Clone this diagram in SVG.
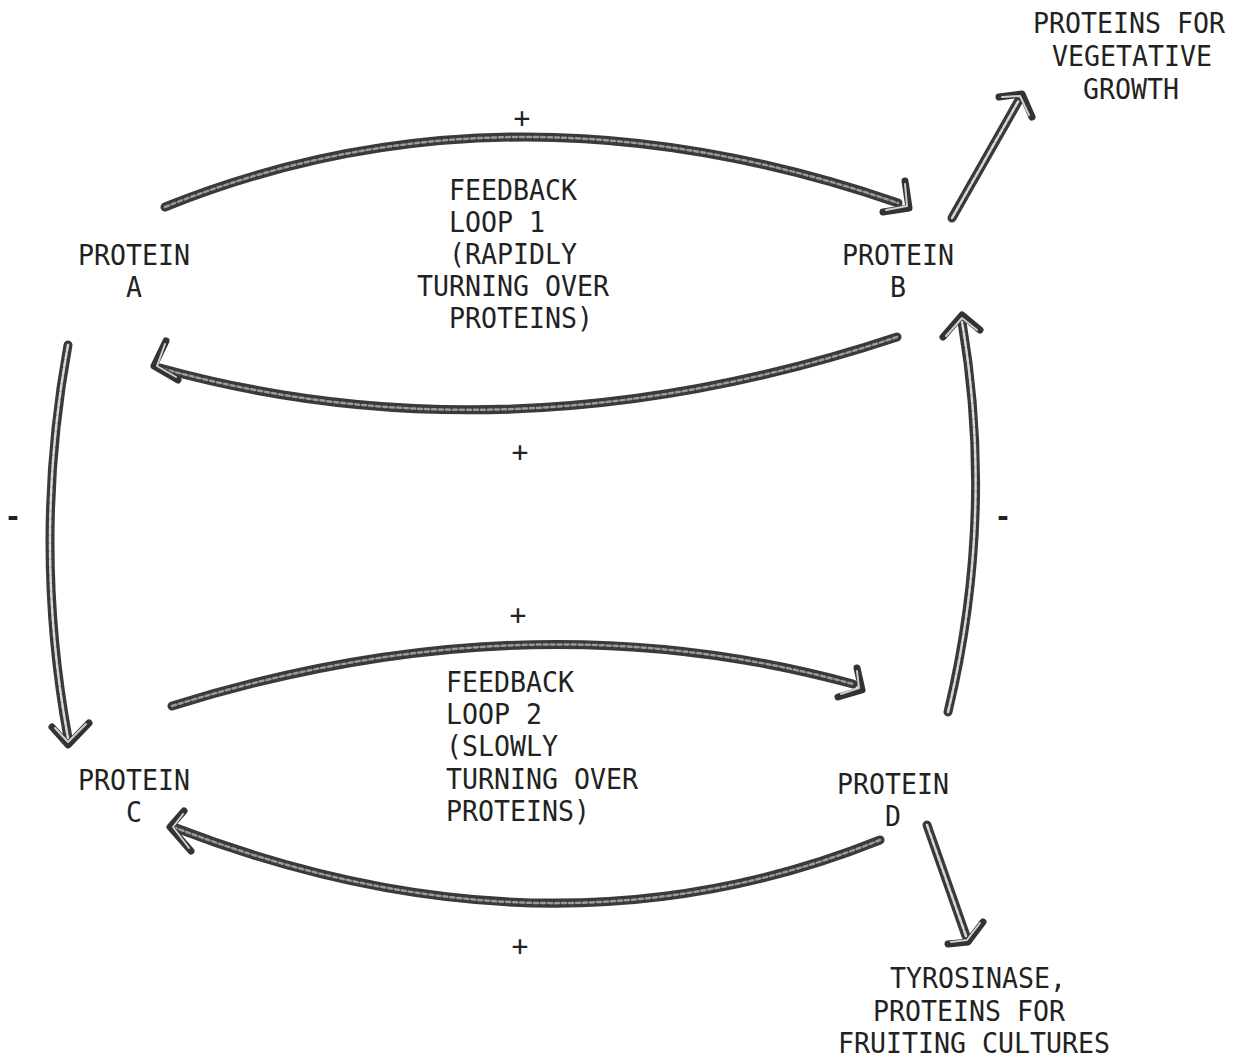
<svg xmlns="http://www.w3.org/2000/svg" width="1246" height="1063" viewBox="0 0 1246 1063">
<style>
  .t { font-family: "DejaVu Sans Mono", "Liberation Mono", monospace; font-size: 29px; fill: #222; }
  .sign { font-family: "DejaVu Sans Mono", "Liberation Mono", monospace; font-size: 28px; fill: #222; text-anchor: middle; }
  .minus { font-family: "DejaVu Sans Mono", "Liberation Mono", monospace; font-size: 28px; fill: #222; text-anchor: middle; font-weight: bold; }
  .band { fill: none; stroke: #3a3a3a; stroke-width: 9; stroke-linecap: round; stroke-linejoin: round; }
  .core { fill: none; stroke: #9a9a9a; stroke-width: 2.5; stroke-linecap: round; stroke-dasharray: 4 3; }
  .core2 { fill: none; stroke: #d8d8d8; stroke-width: 2.5; stroke-linecap: round; stroke-dasharray: 6 2; }
  .head { fill: none; stroke: #333; stroke-width: 7; stroke-linecap: round; stroke-linejoin: round; }
  .headcore { fill: none; stroke: #cfcfcf; stroke-width: 2; stroke-linecap: round; stroke-linejoin: round; }
</style>
<rect width="1246" height="1063" fill="#ffffff"/>

<g id="connectors">
  <g id="edge-a-b">
    <path class="band" d="M165,207 Q508,69 898,203"/>
    <path class="core" d="M165,207 Q508,69 898,203"/>
    <polyline class="head" points="905,181 909,208 883,212"/>
    <polyline class="headcore" points="905,184 907,206 886,210"/>
  </g>
  <g id="edge-b-a">
    <path class="band" d="M897,337 Q511,465 160,368"/>
    <path class="core" d="M897,337 Q511,465 160,368"/>
    <polyline class="head" points="166,341 154,366 178,380"/>
    <polyline class="headcore" points="165,344 157,366 176,377"/>
  </g>
  <g id="edge-a-c">
    <path class="band" d="M68,345 Q32,542 68,738"/>
    <path class="core2" d="M68,345 Q32,542 68,738"/>
    <polyline class="head" points="52,727 68,745 89,723"/>
    <polyline class="headcore" points="55,728 68,742 86,724"/>
  </g>
  <g id="edge-d-b">
    <path class="band" d="M948,712 Q995,517 962,322"/>
    <path class="core2" d="M948,712 Q995,517 962,322"/>
    <polyline class="head" points="943,337 962,315 980,330"/>
    <polyline class="headcore" points="946,336 962,318 977,330"/>
  </g>
  <g id="edge-c-d">
    <path class="band" d="M172,706 Q528,595 853,684"/>
    <path class="core" d="M172,706 Q528,595 853,684"/>
    <polyline class="head" points="857,668 862,690 838,697"/>
    <polyline class="headcore" points="857,671 859,688 841,694"/>
  </g>
  <g id="edge-d-c">
    <path class="band" d="M880,840 Q551,972 176,828"/>
    <path class="core" d="M880,840 Q551,972 176,828"/>
    <polyline class="head" points="184,811 170,827 191,851"/>
    <polyline class="headcore" points="183,814 173,827 189,848"/>
  </g>
  <g id="edge-b-veg">
    <path class="band" d="M952,218 L1019,100"/>
    <path class="core2" d="M952,218 L1019,100"/>
    <polyline class="head" points="999,97 1022,94 1032,117"/>
    <polyline class="headcore" points="1002,97 1020,96 1029,115"/>
  </g>
  <g id="edge-d-tyr">
    <path class="band" d="M927,825 L966,936"/>
    <path class="core2" d="M927,825 L966,936"/>
    <polyline class="head" points="948,944 968,942 983,922"/>
    <polyline class="headcore" points="951,942 967,940 980,923"/>
  </g>
  <text class="sign" x="522" y="128">+</text>
  <text class="sign" x="520" y="462">+</text>
  <text class="sign" x="518" y="625">+</text>
  <text class="sign" x="520" y="956">+</text>
  <text class="minus" x="13" y="526">-</text>
  <text class="minus" x="1003" y="526">-</text>
</g>

<g id="node-a">
  <text class="t" x="78" y="265" textLength="112" lengthAdjust="spacingAndGlyphs">PROTEIN</text>
  <text class="t" x="126" y="297" textLength="16" lengthAdjust="spacingAndGlyphs">A</text>
</g>
<g id="node-b">
  <text class="t" x="842" y="265" textLength="112" lengthAdjust="spacingAndGlyphs">PROTEIN</text>
  <text class="t" x="890" y="297" textLength="16" lengthAdjust="spacingAndGlyphs">B</text>
</g>
<g id="node-c">
  <text class="t" x="78" y="790" textLength="112" lengthAdjust="spacingAndGlyphs">PROTEIN</text>
  <text class="t" x="126" y="822" textLength="16" lengthAdjust="spacingAndGlyphs">C</text>
</g>
<g id="node-d">
  <text class="t" x="837" y="794" textLength="112" lengthAdjust="spacingAndGlyphs">PROTEIN</text>
  <text class="t" x="885" y="826" textLength="16" lengthAdjust="spacingAndGlyphs">D</text>
</g>
<g id="loop1-label">
  <text class="t" x="449" y="200" textLength="128" lengthAdjust="spacingAndGlyphs">FEEDBACK</text>
  <text class="t" x="449" y="232" textLength="96" lengthAdjust="spacingAndGlyphs">LOOP 1</text>
  <text class="t" x="449" y="264" textLength="128" lengthAdjust="spacingAndGlyphs">(RAPIDLY</text>
  <text class="t" x="417" y="296" textLength="192" lengthAdjust="spacingAndGlyphs">TURNING OVER</text>
  <text class="t" x="449" y="328" textLength="144" lengthAdjust="spacingAndGlyphs">PROTEINS)</text>
</g>
<g id="loop2-label">
  <text class="t" x="446" y="692" textLength="128" lengthAdjust="spacingAndGlyphs">FEEDBACK</text>
  <text class="t" x="446" y="724" textLength="96" lengthAdjust="spacingAndGlyphs">LOOP 2</text>
  <text class="t" x="446" y="756" textLength="112" lengthAdjust="spacingAndGlyphs">(SLOWLY</text>
  <text class="t" x="446" y="789" textLength="192" lengthAdjust="spacingAndGlyphs">TURNING OVER</text>
  <text class="t" x="446" y="821" textLength="144" lengthAdjust="spacingAndGlyphs">PROTEINS)</text>
</g>
<g id="node-vegetative">
  <text class="t" x="1033" y="33" textLength="192" lengthAdjust="spacingAndGlyphs">PROTEINS FOR</text>
  <text class="t" x="1052" y="66" textLength="160" lengthAdjust="spacingAndGlyphs">VEGETATIVE</text>
  <text class="t" x="1083" y="99" textLength="96" lengthAdjust="spacingAndGlyphs">GROWTH</text>
</g>
<g id="node-tyrosinase">
  <text class="t" x="890" y="988" textLength="176" lengthAdjust="spacingAndGlyphs">TYROSINASE,</text>
  <text class="t" x="873" y="1021" textLength="192" lengthAdjust="spacingAndGlyphs">PROTEINS FOR</text>
  <text class="t" x="838" y="1053" textLength="272" lengthAdjust="spacingAndGlyphs">FRUITING CULTURES</text>
</g>
</svg>
